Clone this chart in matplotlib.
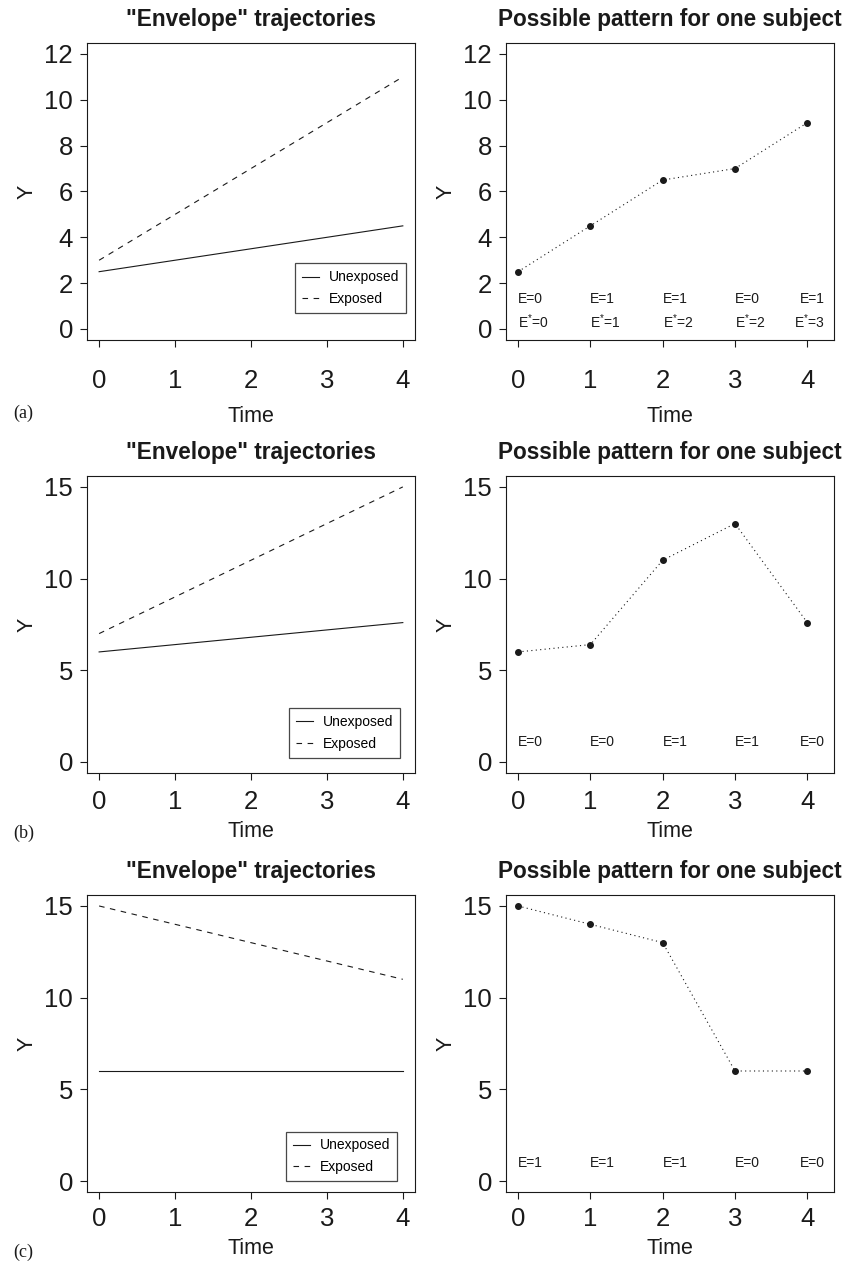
import matplotlib
matplotlib.use('Agg')
import matplotlib.pyplot as plt

plt.rcParams['font.family'] = ['Liberation Sans', 'DejaVu Sans']
plt.rcParams['mathtext.fontset'] = 'custom'
plt.rcParams['mathtext.rm'] = 'Liberation Sans'
plt.rcParams['mathtext.it'] = 'Liberation Sans:italic'

# data
time = [0, 1, 2, 3, 4]
env_time = [0, 4]

unexp_a = [2.5, 4.5]
exp_a = [3, 11]
subj_a = [2.5, 4.5, 6.5, 7, 9]
e_a = [0, 1, 1, 0, 1]
estar_a = [0, 1, 2, 2, 3]

unexp_b = [6, 7.6]
exp_b = [7, 15]
subj_b = [6, 6.4, 11, 13, 7.6]
e_b = [0, 0, 1, 1, 0]

unexp_c = [6, 6]
exp_c = [15, 11]
subj_c = [15, 14, 13, 6, 6]
e_c = [1, 1, 1, 0, 0]

yticks_a = [0, 2, 4, 6, 8, 10, 12]
yticks_bc = [0, 5, 10, 15]
panel_tags = ['(a)', '(b)', '(c)']

INK = '#1a1a1a'


def style_axes(ax, yticks, ylim, xlim, xpad, xlabpad):
    ax.set_xlim(xlim)
    ax.set_ylim(ylim)
    ax.set_xticks(time)
    ax.set_yticks(yticks)
    ax.tick_params(length=5, width=0.8, labelsize=18.5, direction='out', colors=INK)
    ax.tick_params(axis='x', pad=xpad)
    ax.tick_params(axis='y', pad=5)
    ax.set_xlabel('Time', fontsize=15.5, labelpad=xlabpad, color=INK)
    ax.set_ylabel('Y', fontsize=15.5, labelpad=5, color=INK)
    for s in ax.spines.values():
        s.set_linewidth(0.8)
        s.set_color(INK)


def envelope_panel(ax, unexp, exp, yticks, ylim, xpad, xlabpad, leg_anchor):
    ax.plot(env_time, unexp, color=INK, lw=0.8, label='Unexposed')
    ax.plot(env_time, exp, color=INK, lw=0.8, ls=(0, (5, 5)), label='Exposed')
    style_axes(ax, yticks, ylim, (-0.16, 4.16), xpad, xlabpad)
    ax.set_title('"Envelope" trajectories', fontsize=16.3, fontweight='bold', pad=12, color=INK)
    leg = ax.legend(loc='lower right', bbox_to_anchor=leg_anchor, fontsize=10,
                    frameon=True, fancybox=False, borderpad=0.5, labelspacing=0.55,
                    handlelength=1.2, handletextpad=0.7, borderaxespad=0)
    leg.get_frame().set_edgecolor(INK)
    leg.get_frame().set_linewidth(0.9)


def subject_panel(ax, subj, rows, yticks, ylim, xpad, xlabpad):
    ax.plot(time, subj, color=INK, lw=0.8, ls=(0, (1, 3)), marker='o', ms=4)
    # x range runs to 4.2 so the last label fits
    style_axes(ax, yticks, ylim, (-0.168, 4.368), xpad, xlabpad)
    ax.set_title('Possible pattern for one subject', fontsize=16.3, fontweight='bold', pad=12, color=INK)
    for ypos, fmt, vals in rows:
        for t, v in zip(time, vals):
            if t < 4:
                ax.text(t, ypos, fmt % v, ha='left', va='center', fontsize=10, color=INK)
            else:
                ax.text(4.24, ypos, fmt % v, ha='right', va='center', fontsize=10, color=INK)


fig = plt.figure(figsize=(8.46, 12.63), dpi=100)

bottoms = [0.7308, 0.388, 0.0562]
lefts = [0.1028, 0.598]
w, h = 0.3877, 0.2352

axa1 = fig.add_axes([lefts[0], bottoms[0], w, h])
axa2 = fig.add_axes([lefts[1], bottoms[0], w, h])
axb1 = fig.add_axes([lefts[0], bottoms[1], w, h])
axb2 = fig.add_axes([lefts[1], bottoms[1], w, h])
axc1 = fig.add_axes([lefts[0], bottoms[2], w, h])
axc2 = fig.add_axes([lefts[1], bottoms[2], w, h])

envelope_panel(axa1, unexp_a, exp_a, yticks_a, (-0.48, 12.48), 16, 9, (0.973, 0.091))
subject_panel(axa2, subj_a, [(1.3, 'E=%d', e_a), (0.3, r'E$^{*}$=%d', estar_a)],
              yticks_a, (-0.48, 12.48), 16, 9)

envelope_panel(axb1, unexp_b, exp_b, yticks_bc, (-0.6, 15.6), 7, 5, (0.954, 0.051))
subject_panel(axb2, subj_b, [(1.1, 'E=%d', e_b)], yticks_bc, (-0.6, 15.6), 7, 5)

envelope_panel(axc1, unexp_c, exp_c, yticks_bc, (-0.6, 15.6), 6, 5, (0.945, 0.037))
subject_panel(axc2, subj_c, [(1.0, 'E=%d', e_c)], yticks_bc, (-0.6, 15.6), 6, 5)

for tag, ypx in zip(panel_tags, [413, 833, 1252]):
    fig.text(13 / 846, 1 - ypx / 1263, tag, ha='left', va='center', fontsize=13,
             family='Liberation Serif', color=INK)

fig.savefig('out.png', dpi=100)
